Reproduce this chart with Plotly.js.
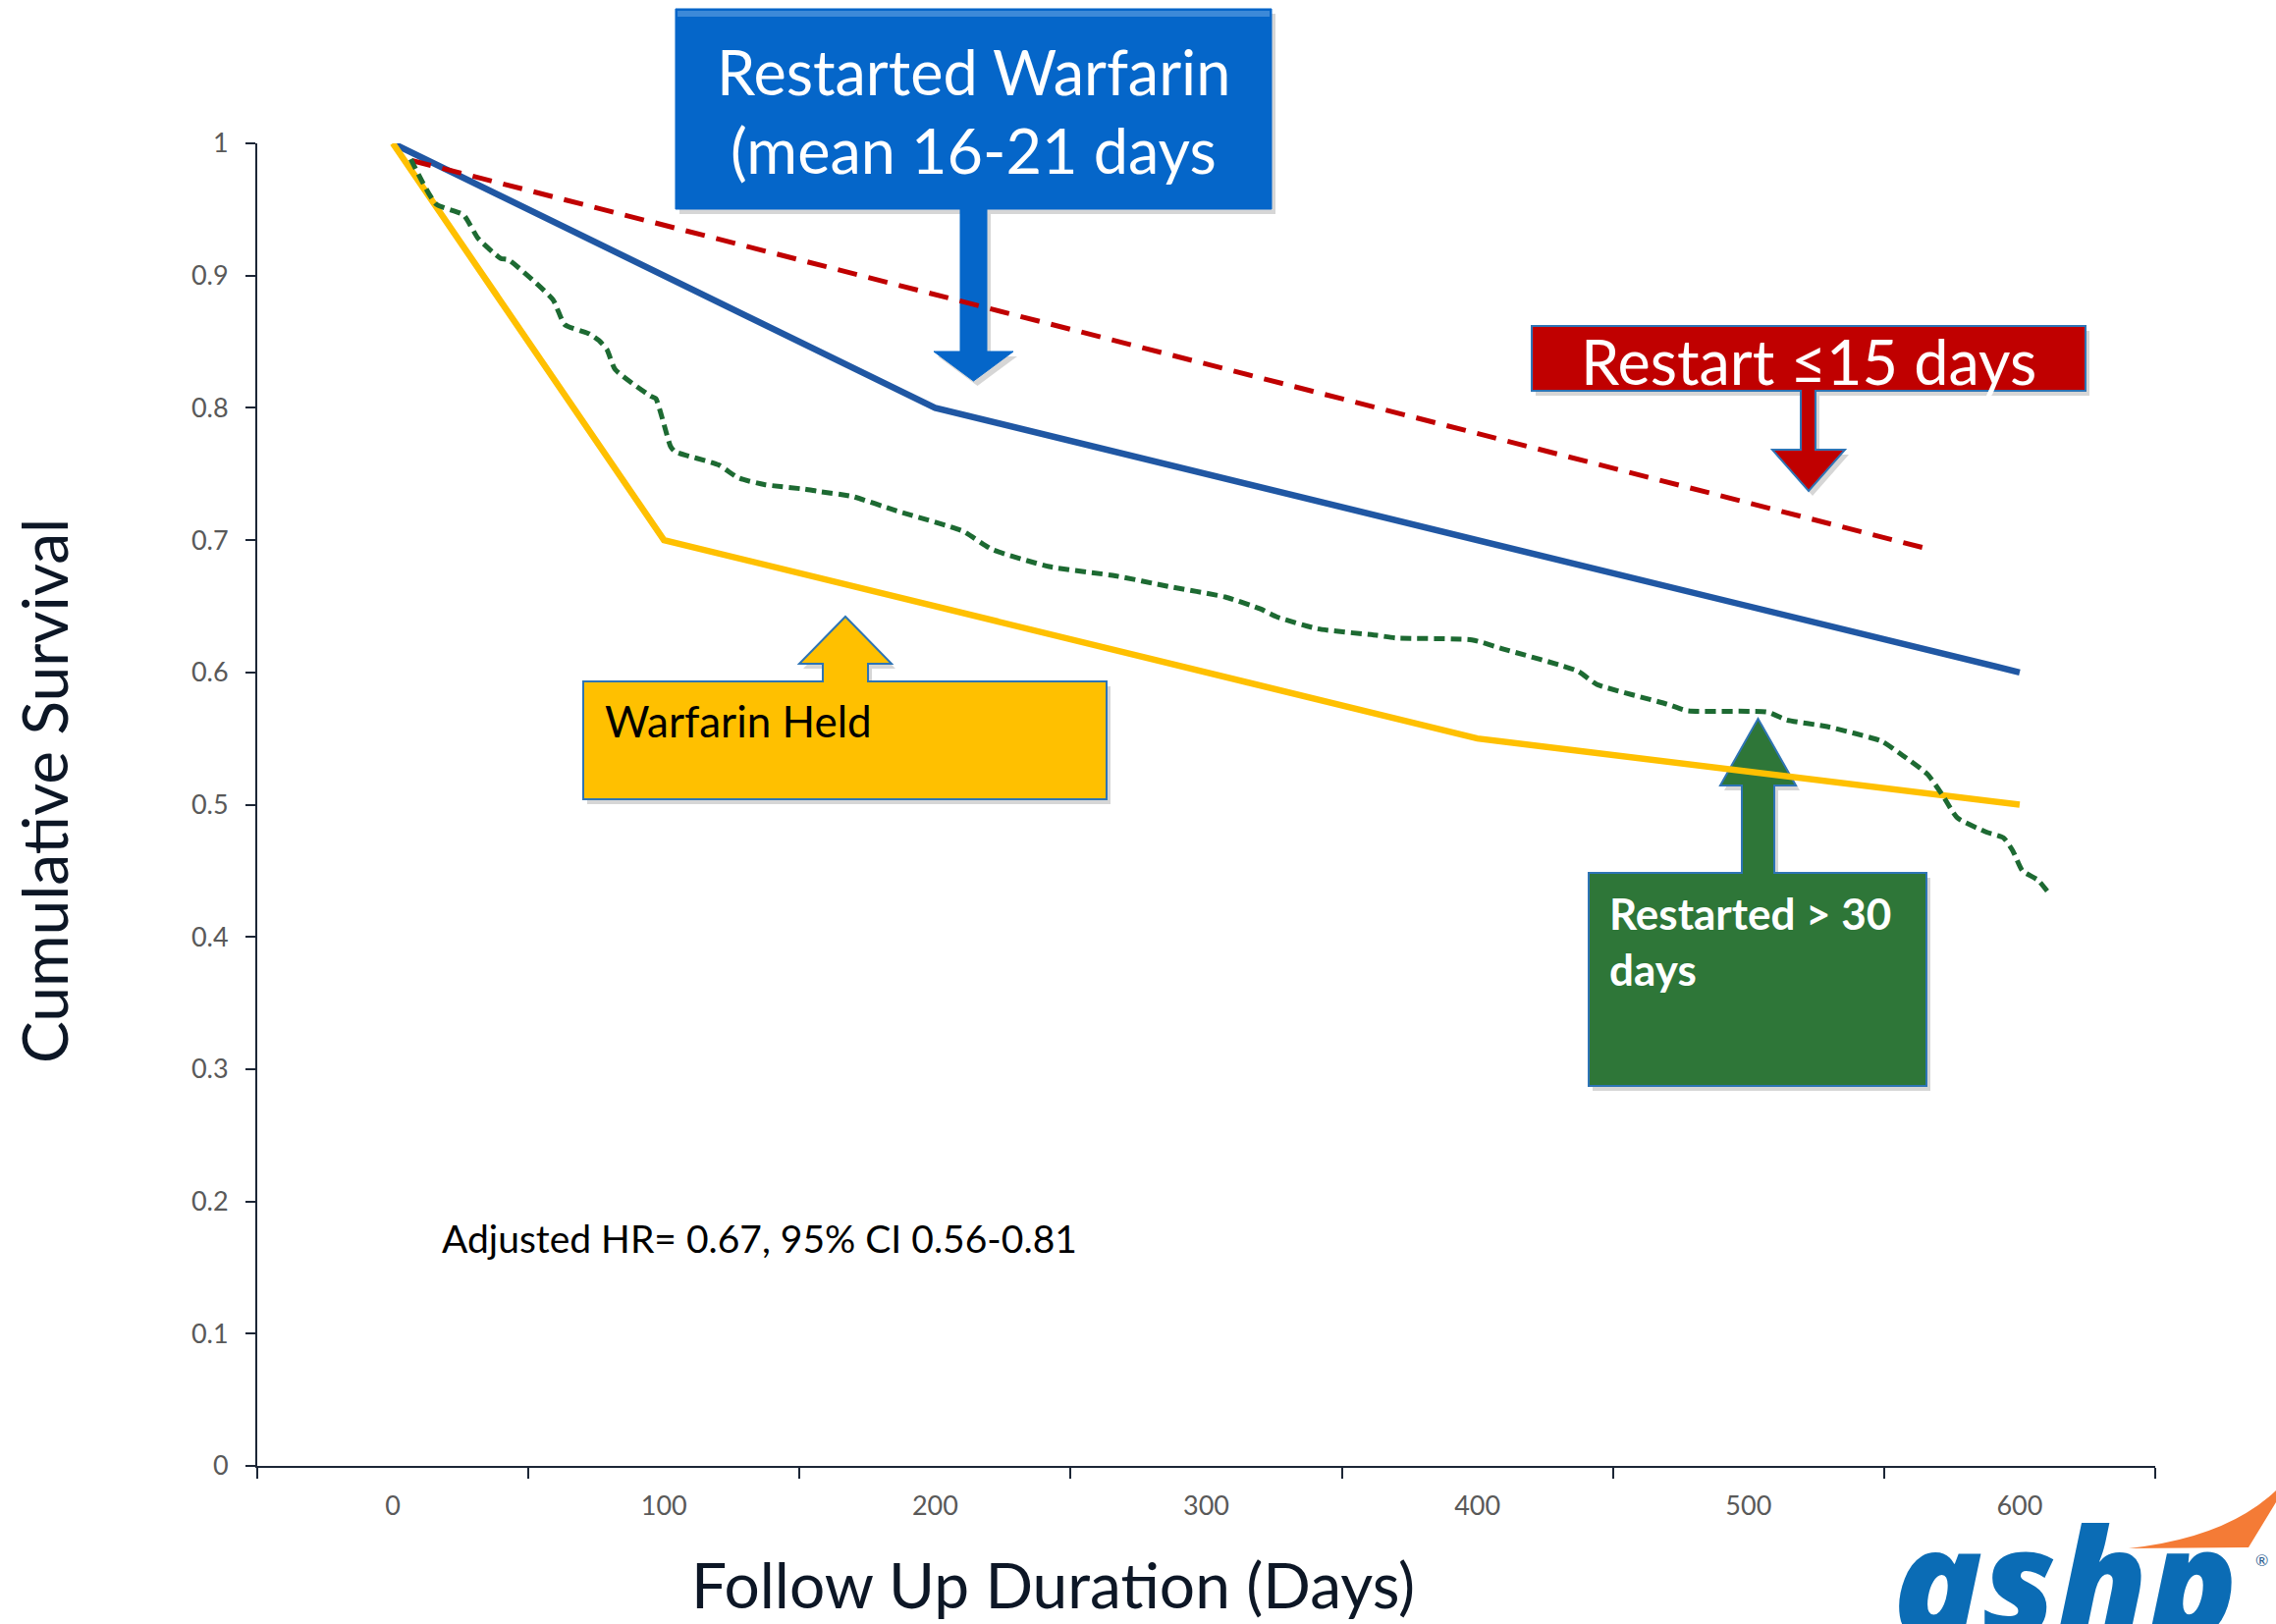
<!DOCTYPE html>
<html>
<head>
<meta charset="utf-8">
<script src="https://cdn.plot.ly/plotly-3.0.1.min.js"></script>
<style>html,body{margin:0;padding:0;background:#fff;}#chart{width:2318px;height:1654px;}</style>
</head>
<body>
<div id="chart"></div>
<script>
// ---------------- data ----------------
const restartedDays = [0, 200, 600];
const restartedSurv = [1.0, 0.80, 0.60];

const heldDays = [0, 100, 400, 600];
const heldSurv = [1.0, 0.70, 0.55, 0.50];

const earlyDays = [7, 565];
const earlySurv = [0.987, 0.694];

const lateDays = [6.6, 16, 26, 31.5, 39.8, 42.6, 59, 63.4, 72.5, 76, 79, 82, 95, 97, 102.4, 104, 120, 127.5, 137, 152, 156.5, 169.5, 186, 210, 221, 242, 266.5, 286, 307, 320, 326, 341, 363, 370, 398, 409, 437, 444, 470, 477.5, 507, 514, 529, 549, 557, 566, 571.6, 577, 588, 594, 597.5, 601, 606.7, 610.4];
const lateSurv = [0.988, 0.954, 0.946, 0.928, 0.913, 0.912, 0.882, 0.863, 0.856, 0.851, 0.844, 0.829, 0.809, 0.807, 0.771, 0.767, 0.757, 0.747, 0.742, 0.7385, 0.737, 0.733, 0.722, 0.707, 0.693, 0.680, 0.673, 0.665, 0.657, 0.648, 0.642, 0.633, 0.628, 0.626, 0.6246, 0.618, 0.601, 0.591, 0.576, 0.571, 0.570, 0.564, 0.559, 0.548, 0.537, 0.523, 0.507, 0.490, 0.479, 0.475, 0.465, 0.450, 0.443, 0.434];

const xTickVals = [0, 100, 200, 300, 400, 500, 600];
const xTickText = ['0', '100', '200', '300', '400', '500', '600'];
const xMinorTicks = [-50, 50, 150, 250, 350, 450, 550, 650];
const yTickVals = [0, 0.1, 0.2, 0.3, 0.4, 0.5, 0.6, 0.7, 0.8, 0.9, 1];
const yTickText = ['0', '0.1', '0.2', '0.3', '0.4', '0.5', '0.6', '0.7', '0.8', '0.9', '1'];

const yTitle = 'Cumulative Survival';
const xTitle = 'Follow Up Duration (Days)';
const hrText = 'Adjusted HR= 0.67, 95% CI 0.56-0.81';

// ---------------- layout helpers ----------------
const PW = 2318, PH = 1654;
const L = 262, R = 2195, T = 146, B = 1493;
const W = R - L, H = B - T;
const px = x => (x - L) / W;
const py = y => (B - y) / H;
const poly = pts => pts.map((p, i) => (i ? 'L' : 'M') + px(p[0]).toFixed(5) + ',' + py(p[1]).toFixed(5)).join(' ') + ' Z';
const shift = (pts, dx, dy) => pts.map(p => [p[0] + dx, p[1] + dy]);

function downCallout(x0, y0, x1, y1, sL, sR, hTop, hL, hR, tipY) {
  const c = (hL + hR) / 2;
  return [[x0, y0], [x1, y0], [x1, y1], [sR, y1], [sR, hTop], [hR, hTop], [c, tipY], [hL, hTop], [sL, hTop], [sL, y1], [x0, y1]];
}
function upCallout(x0, y0, x1, y1, sL, sR, hBase, hL, hR, tipY) {
  const c = (hL + hR) / 2;
  return [[x0, y0], [sL, y0], [sL, hBase], [hL, hBase], [c, tipY], [hR, hBase], [sR, hBase], [sR, y0], [x1, y0], [x1, y1], [x0, y1]];
}

const blueC = downCallout(688, 9, 1295, 213, 978, 1005, 358, 951, 1032, 388);
const redC = downCallout(1560, 332, 2124, 398, 1834, 1849, 458, 1805, 1879, 500);
const yellowC = upCallout(594, 694, 1127, 814, 838, 884, 676, 814, 908, 628);
const greenC = upCallout(1618, 889, 1962, 1106, 1774, 1807, 800, 1752, 1829, 732);

const outline = '#2e74b5';
const shadow = pts => ({type: 'path', xref: 'paper', yref: 'paper', layer: 'below', path: poly(shift(pts, 4, 5)), fillcolor: 'rgba(0,0,0,0.16)', line: {width: 0}});
const shapes = [
  shadow(blueC), shadow(redC), shadow(yellowC), shadow(greenC),
  {type: 'path', xref: 'paper', yref: 'paper', layer: 'below', path: poly(blueC), fillcolor: '#0566c9', line: {color: '#0566c9', width: 1}},
  {type: 'path', xref: 'paper', yref: 'paper', layer: 'below', path: poly([[690, 11], [1293, 11], [1293, 17], [690, 17]]), fillcolor: '#3c89d8', line: {width: 0}},
  {type: 'path', xref: 'paper', yref: 'paper', layer: 'below', path: poly(redC), fillcolor: '#c00000', line: {color: outline, width: 2}},
  {type: 'path', xref: 'paper', yref: 'paper', layer: 'below', path: poly(yellowC), fillcolor: '#ffc000', line: {color: outline, width: 2}},
  {type: 'path', xref: 'paper', yref: 'paper', layer: 'below', path: poly(greenC), fillcolor: '#2e7638', line: {color: outline, width: 2}},
  // logo swoosh
  {type: 'path', xref: 'paper', yref: 'paper', layer: 'above',
   path: 'M' + px(2168) + ',' + py(1577) + ' Q' + px(2268) + ',' + py(1566) + ' ' + px(2318) + ',' + py(1518) + ' L' + px(2318) + ',' + py(1530) + ' L' + px(2290) + ',' + py(1576) + ' Z',
   fillcolor: '#f47b36', line: {width: 0}}
];

const F = 'Lato, "Open Sans", sans-serif';
const ann = (x, y, text, size, color, opts) => Object.assign({
  xref: 'paper', yref: 'paper', x: px(x), y: py(y), text: text, showarrow: false,
  xanchor: 'center', yanchor: 'middle', font: {family: F, size: size, color: color}
}, opts || {});

const annotations = [
  ann(991, 72, 'Restarted Warfarin', 63, '#ffffff'),
  ann(991, 153, '(mean 16-21 days', 63, '#ffffff'),
  ann(1842, 367, 'Restart \u226415 days', 63, '#ffffff'),
  ann(614, 734, 'Warfarin Held', 44, '#000000', {xanchor: 'left'}),
  ann(1637, 930, 'Restarted > 30', 44, '#ffffff', {xanchor: 'left', font: {family: F, size: 44, color: '#ffffff', weight: 700}}),
  ann(1637, 987, 'days', 44, '#ffffff', {xanchor: 'left', font: {family: F, size: 44, color: '#ffffff', weight: 700}}),
  ann(448, 1261, hrText, 39, '#000000', {xanchor: 'left'}),
  ann(45, 806, yTitle, 64, '#0d1726', {textangle: -90}),
  ann(1072, 1613, xTitle, 64, '#0d1726'),
  ann(1926, 1608, 'ashp', 150, '#0b6cb5', {xanchor: 'left', font: {family: '"Open Sans", sans-serif', size: 150, color: '#0b6cb5', weight: 800, style: 'italic'}}),
  ann(2303, 1588, '\u00ae', 16, '#2a5d8f')
];

const traces = [
  {x: restartedDays, y: restartedSurv, mode: 'lines', line: {color: '#2057a3', width: 6.5}, hoverinfo: 'skip'},
  {x: heldDays, y: heldSurv, mode: 'lines', line: {color: '#ffc000', width: 6.5}, hoverinfo: 'skip'},
  {x: earlyDays, y: earlySurv, mode: 'lines', line: {color: '#c00000', width: 5, dash: '20px,12px'}, hoverinfo: 'skip'},
  {x: lateDays, y: lateSurv, mode: 'lines', line: {color: '#1d6a32', width: 5, dash: '11px,6px', shape: 'spline', smoothing: 0.5}, hoverinfo: 'skip'}
];

const axisColor = '#1c2636';
const layout = {
  width: PW, height: PH,
  margin: {l: L, r: PW - R, t: T, b: PH - B, pad: 0},
  paper_bgcolor: '#ffffff', plot_bgcolor: 'rgba(0,0,0,0)',
  showlegend: false,
  xaxis: {
    range: [-50, 650], showgrid: false, zeroline: false,
    showline: true, linecolor: axisColor, linewidth: 2,
    tickmode: 'array', tickvals: xTickVals, ticktext: xTickText, ticks: '',
    tickfont: {family: F, size: 27, color: '#595959'}, ticklabelstandoff: 16,
    minor: {tickmode: 'array', tickvals: xMinorTicks, ticks: 'outside', ticklen: 11, tickwidth: 2, tickcolor: axisColor, showgrid: false}
  },
  yaxis: {
    range: [0, 1], showgrid: false, zeroline: false,
    showline: true, linecolor: axisColor, linewidth: 2,
    tickmode: 'array', tickvals: yTickVals, ticktext: yTickText,
    ticks: 'outside', ticklen: 10, tickwidth: 2, tickcolor: axisColor,
    tickfont: {family: F, size: 27, color: '#595959'}, ticklabelstandoff: 12
  },
  shapes: shapes,
  annotations: annotations
};

Plotly.newPlot('chart', traces, layout, {staticPlot: true, displayModeBar: false});
</script>
</body>
</html>
